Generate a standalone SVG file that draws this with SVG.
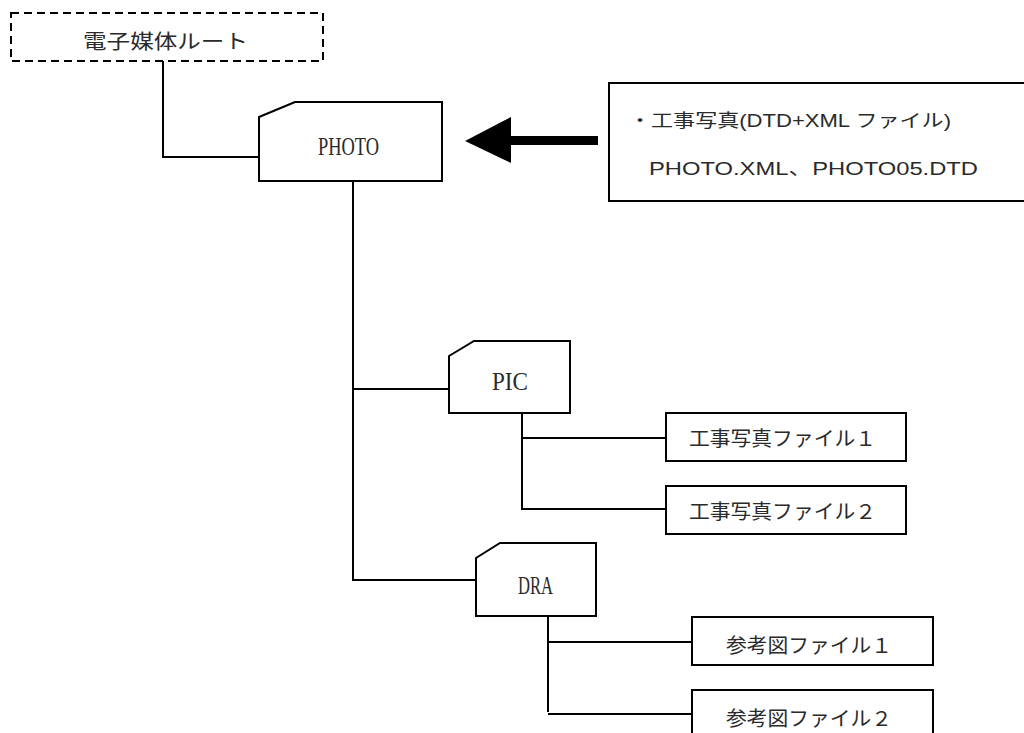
<svg xmlns="http://www.w3.org/2000/svg" width="1024" height="733" viewBox="0 0 1024 733">
<defs>
<style>
.box{fill:#fff;stroke:#000;stroke-width:2}
.dash{fill:#fff;stroke:#000;stroke-width:2;stroke-dasharray:8 5}
.ln{fill:none;stroke:#000;stroke-width:2}
.jp{font-family:"Noto Sans CJK JP",sans-serif;font-size:20px;fill:#2a2a2a}
.lat{font-family:"Liberation Serif","Noto Sans CJK JP",serif;font-size:26px;fill:#2a2a2a}
.call{font-family:"Liberation Sans","Noto Sans CJK JP",sans-serif;fill:#2a2a2a}
</style>
</defs>
<rect width="1024" height="733" fill="#fff"/>
<g id="connectors">
<polyline class="ln" points="163,61 163,157 259,157"/>
<polyline class="ln" points="353,181 353,580 476,580"/>
<line class="ln" x1="353" y1="389" x2="449" y2="389"/>
<polyline class="ln" points="522,413 522,509 666,509"/>
<line class="ln" x1="522" y1="438" x2="666" y2="438"/>
<line class="ln" x1="548" y1="616" x2="548" y2="712"/>
<line class="ln" x1="548" y1="642" x2="692" y2="642"/>
<line class="ln" x1="548" y1="714" x2="692" y2="714"/>
<polygon points="465,141 511,117 511,136 598,136 598,145 511,145 511,163" fill="#000"/>
</g>
<g id="root">
<rect class="dash" x="11" y="13" width="312" height="48"/>
<text class="jp" x="83" y="49" font-size="22" textLength="165" lengthAdjust="spacingAndGlyphs">電子媒体ルート</text>
</g>
<g id="photo">
<path class="box" d="M259,117 L295,102 L442,102 L442,181 L259,181 Z"/>
<text class="lat" x="318" y="155" textLength="61" lengthAdjust="spacingAndGlyphs">PHOTO</text>
</g>
<g id="callout">
<rect class="box" x="609" y="83" width="420" height="118"/>
<text class="call" x="629" y="127" font-size="18" textLength="322" lengthAdjust="spacingAndGlyphs">・工事写真(DTD+XML ファイル)</text>
<text class="call" x="649" y="175" font-size="19" textLength="329" lengthAdjust="spacingAndGlyphs">PHOTO.XML、PHOTO05.DTD</text>
</g>
<g id="pic">
<path class="box" d="M449,356 L474,341 L570,341 L570,413 L449,413 Z"/>
<text class="lat" x="492" y="390" textLength="36" lengthAdjust="spacingAndGlyphs">PIC</text>
</g>
<g id="photo-file1">
<rect class="box" x="666" y="413" width="240" height="48"/>
<text class="jp" x="689" y="446" textLength="187" lengthAdjust="spacingAndGlyphs">工事写真ファイル１</text>
</g>
<g id="photo-file2">
<rect class="box" x="666" y="486" width="240" height="48"/>
<text class="jp" x="689" y="519" textLength="187" lengthAdjust="spacingAndGlyphs">工事写真ファイル２</text>
</g>
<g id="dra">
<path class="box" d="M476,558 L500,543 L596,543 L596,616 L476,616 Z"/>
<text class="lat" x="518" y="594" textLength="35" lengthAdjust="spacingAndGlyphs">DRA</text>
</g>
<g id="ref-file1">
<rect class="box" x="692" y="617" width="241" height="48"/>
<text class="jp" x="726" y="653" textLength="166" lengthAdjust="spacingAndGlyphs">参考図ファイル１</text>
</g>
<g id="ref-file2">
<rect class="box" x="692" y="690" width="241" height="50"/>
<text class="jp" x="726" y="726" textLength="166" lengthAdjust="spacingAndGlyphs">参考図ファイル２</text>
</g>
</svg>
